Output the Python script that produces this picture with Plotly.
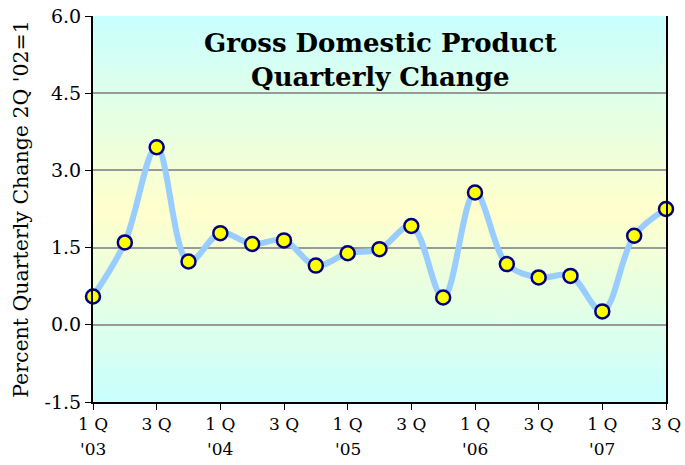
import base64
import plotly.graph_objects as go

quarters = ["1Q03", "2Q03", "3Q03", "4Q03", "1Q04", "2Q04", "3Q04", "4Q04",
            "1Q05", "2Q05", "3Q05", "4Q05", "1Q06", "2Q06", "3Q06", "4Q06",
            "1Q07", "2Q07", "3Q07"]
gdp_change = [0.55, 1.60, 3.45, 1.23, 1.78, 1.57, 1.64, 1.15,
              1.39, 1.47, 1.92, 0.53, 2.57, 1.18, 0.92, 0.95,
              0.26, 1.73, 2.25]
tick_text = ["1 Q", "3 Q", "1 Q", "3 Q", "1 Q", "3 Q", "1 Q", "3 Q", "1 Q", "3 Q"]
year_labels = ["'03", "'04", "'05", "'06", "'07"]
y_ticks = [-1.5, 0.0, 1.5, 3.0, 4.5, 6.0]

x_idx = list(range(len(quarters)))

svg = ('<svg xmlns="http://www.w3.org/2000/svg" width="100" height="100" preserveAspectRatio="none">'
       '<defs><linearGradient id="g" x1="0" y1="0" x2="0" y2="1">'
       '<stop offset="0" stop-color="#c8ffff"/>'
       '<stop offset="0.5" stop-color="#ffffcc"/>'
       '<stop offset="1" stop-color="#c8ffff"/>'
       '</linearGradient></defs>'
       '<rect width="100" height="100" fill="url(#g)"/></svg>')
svg_uri = "data:image/svg+xml;base64," + base64.b64encode(svg.encode()).decode()

serif = "DejaVu Serif"

fig = go.Figure()
fig.add_trace(go.Scatter(
    x=x_idx, y=gdp_change, mode="lines+markers",
    line=dict(color="#99ccff", width=6, shape="spline", smoothing=1.0),
    marker=dict(size=14, color="#ffff00", line=dict(color="#000080", width=2.5)),
    cliponaxis=False, showlegend=False,
))

annotations = [dict(
    text="<b>Gross Domestic Product<br>Quarterly Change</b>",
    xref="paper", yref="paper", x=0.5, y=0.975, xanchor="center", yanchor="top",
    showarrow=False, font=dict(family=serif, size=26, color="black"),
)]
for i, yl in enumerate(year_labels):
    annotations.append(dict(
        text=yl, xref="x", yref="paper", x=x_idx[i * 4], y=-0.09,
        xanchor="center", yanchor="top", showarrow=False,
        font=dict(family=serif, size=17, color="black"),
    ))

fig.update_layout(
    width=685, height=465,
    margin=dict(l=93, r=19, t=16, b=63),
    paper_bgcolor="white",
    plot_bgcolor="rgba(0,0,0,0)",
    font=dict(family=serif, color="black"),
    images=[dict(source=svg_uri, xref="paper", yref="paper", x=0, y=1,
                 sizex=1, sizey=1, sizing="stretch", layer="below", xanchor="left", yanchor="top")],
    xaxis=dict(
        range=[0, len(quarters) - 1], automargin=False,
        tickvals=x_idx[::2], ticktext=tick_text,
        ticks="outside", ticklen=6, tickwidth=1, tickcolor="black",
        showline=True, linecolor="black", linewidth=2,
        showgrid=False, zeroline=False,
        tickfont=dict(family=serif, size=17),
    ),
    yaxis=dict(
        range=[-1.5, 6.0], automargin=False,
        tickvals=y_ticks, ticktext=[f"{v:.1f}" for v in y_ticks],
        ticks="outside", ticklen=6, tickwidth=1, tickcolor="black",
        showline=True, linecolor="black", linewidth=2, mirror=True,
        showgrid=True, gridcolor="#999999", gridwidth=2, zeroline=False,
        tickfont=dict(family=serif, size=19),
        title=dict(text="Percent Quarterly Change 2Q '02=1",
                   font=dict(family=serif, size=20.5), standoff=10),
    ),
    annotations=annotations,
)

# remove the default 8px page margin so the figure sits at the window's corner
fig.write_html("out.html", config={"displayModeBar": False},
               post_script="document.body.style.margin='0px';")
